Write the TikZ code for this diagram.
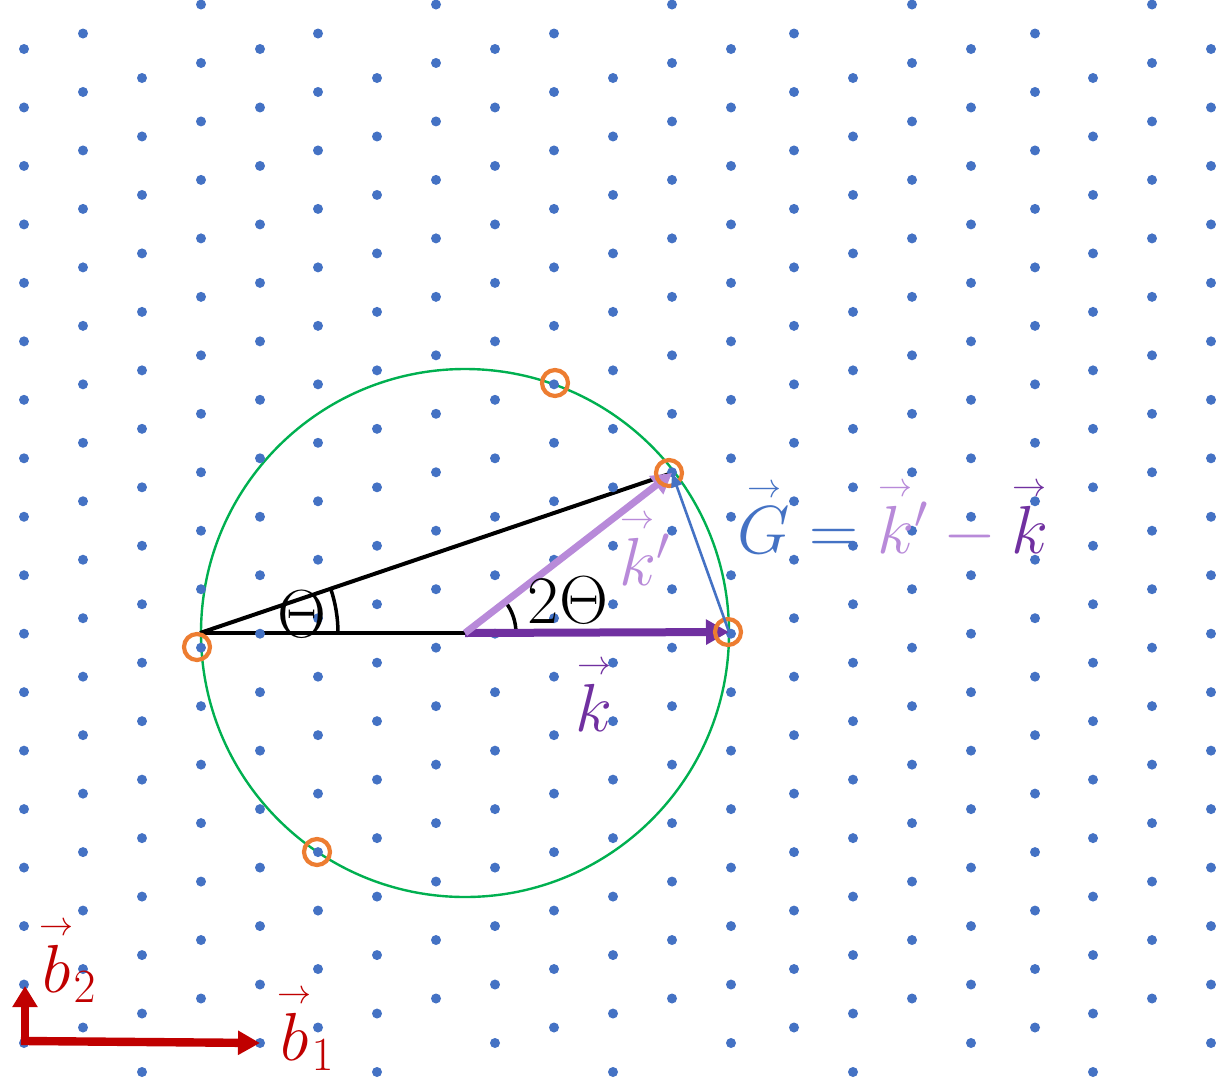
\RequirePackage{fix-cm}
\documentclass[tikz,border=0pt]{standalone}
\usepackage{amsmath}
\usetikzlibrary{calc,arrows.meta}

\definecolor{latblue}{HTML}{4472C4}
\definecolor{ringorange}{HTML}{ED7D31}
\definecolor{circgreen}{HTML}{00B050}
\definecolor{kpurple}{HTML}{7030A0}
\definecolor{kplilac}{HTML}{B88AD9}
\definecolor{bred}{HTML}{C00000}

\newcommand{\vecarrow}[1]{\overset{\scriptscriptstyle\rightarrow}{#1}}

\begin{document}
\begin{tikzpicture}[x=0.5pt,y=-0.5pt,
  lbl/.style={inner sep=0pt,font=\fontsize{34}{40}\selectfont}]
\useasboundingbox (0,0) rectangle (1216,1077);
\coordinate (O) at (465,633);
\coordinate (L) at (200,633);
\coordinate (K) at (729,632);
\coordinate (Kp) at (672,473);
\coordinate (B0) at (25,1041);
\coordinate (B1) at (260,1043);
\coordinate (B2) at (25,986);

\draw[circgreen,line width=1.2pt] (O) circle[radius=264];

\draw[line width=2pt] (L) -- (O);
\draw[line width=2pt] (L) -- (Kp);
\draw[line width=1.75pt] ($(L)+(138,0)$) arc[start angle=0,end angle=-18.7,radius=138];
\draw[line width=1.75pt] ($(O)+(51,0)$) arc[start angle=0,end angle=-37.7,radius=51];

% lattice, one column at a time
\foreach \x/\ys in {24/49,83/33.5,142/78,201/4.5,260/49,318/33.5,377/78,436/4.5,495/49,554/33.5,613/78,672/4.5,731/49,794/33.5,853/78,912/4.5,971/49,1035/33.5,1093/78,1152/4.5,1211/49}
  \foreach \j in {0,...,17}
    \fill[latblue] (\x,{\ys+58.47*\j}) circle (5);

\draw[kpurple,line width=4pt,-{Triangle[length=11.5pt,width=12pt]}] (O) -- (K);
\draw[kplilac,line width=3.5pt,-{Triangle[length=10pt,width=11pt]}] (O) -- (Kp);

\foreach \p in {(197,647),(728,632),(669,473),(555,383),(317,852)}
  \draw[ringorange,line width=2.1pt] \p circle (13);

\draw[latblue,line width=1.3pt,-{Triangle[length=7pt,width=5.5pt]}] (K) -- (Kp);

\draw[bred,line width=4.2pt,line cap=rect,-{Triangle[length=11pt,width=11.5pt]}] (B0) -- (B1);
\draw[bred,line width=4.2pt,line cap=rect,-{Triangle[length=10.5pt,width=12pt]}] (B0) -- (B2);

\node[lbl] (theta) at (302,614) {$\Theta$};
\node[lbl] (twotheta) at (568,600) {$2\Theta$};
\node[lbl,text=kplilac] (kplab) at (645,548) {$\vecarrow{k}{}'$};
\node[lbl,text=kpurple] (klab) at (594,694) {$\vecarrow{k}$};
\node[lbl] (glab) at (893,519) {$\color{latblue}\vecarrow{G}=\color{kplilac}\vecarrow{k}{}'-\color{kpurple}\vecarrow{k}$};
\node[lbl,text=bred] (b2lab) at (68,960) {$\vecarrow{b}{}_2$};
\node[lbl,text=bred] (b1lab) at (306,1028) {$\vecarrow{b}{}_1$};
\end{tikzpicture}
\end{document}
